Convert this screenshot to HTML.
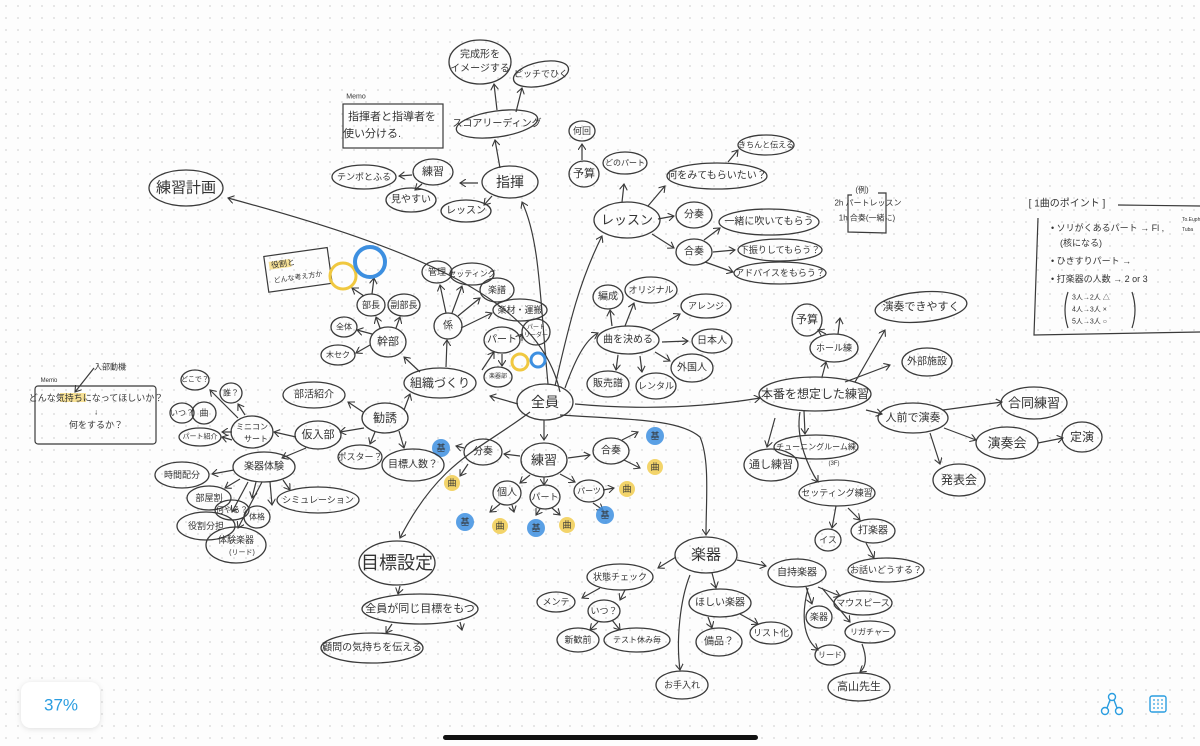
<!DOCTYPE html>
<html><head><meta charset="utf-8"><style>
html,body{margin:0;padding:0;width:1200px;height:746px;overflow:hidden;background:#fdfdfd}
svg{display:block}
text{font-family:"Liberation Sans","Noto Sans CJK JP",sans-serif;fill:#333;text-anchor:middle;dominant-baseline:central}
.e{fill:none;stroke:#3a3a3a;stroke-width:1.3}
.l{fill:none;stroke:#3a3a3a;stroke-width:1.2;marker-end:url(#a)}
.n{fill:none;stroke:#3a3a3a;stroke-width:1.2}
</style></head><body>
<svg width="1200" height="746" viewBox="0 0 1200 746" xmlns="http://www.w3.org/2000/svg">
<defs>
<pattern id="g" width="12" height="12" patternUnits="userSpaceOnUse"><circle cx="6" cy="6" r="0.9" fill="#d6d6d6"/></pattern>
<marker id="a" markerWidth="8" markerHeight="8" refX="6" refY="4" orient="auto" markerUnits="userSpaceOnUse"><path d="M0,0 L6,4 L0,8" fill="none" stroke="#3a3a3a" stroke-width="1.1"/></marker>
<filter id="s" x="-20%" y="-20%" width="140%" height="140%"><feDropShadow dx="0" dy="1" stdDeviation="3" flood-opacity="0.12"/></filter>
</defs>
<rect width="1200" height="746" fill="#fdfdfd"/>
<rect width="1200" height="746" fill="url(#g)"/>

<!-- long connectors -->
<path class="l" d="M560,392 C540,300 420,250 228,198"/>
<path class="l" d="M548,384 C540,300 540,240 522,202"/>
<path class="l" d="M555,386 C570,320 580,280 602,236"/>
<path class="l" d="M565,388 C575,360 585,340 598,333"/>
<path class="l" d="M575,404 C640,410 700,408 760,398"/>
<path class="l" d="M518,404 L490,396"/>
<path class="l" d="M530,412 C480,450 440,460 400,538"/>
<path class="l" d="M560,415 C640,420 680,420 700,437 C710,460 706,500 706,535"/>
<path class="l" d="M544,420 L544,440"/>
<path class="l" d="M690,575 C680,600 676,640 680,670"/>

<!-- 指揮 area -->
<ellipse class="e" cx="480" cy="62" rx="31" ry="22"/><text x="480" y="55" font-size="10">完成形を</text><text x="480" y="69" font-size="10">イメージする</text>
<ellipse class="e" cx="541" cy="74" rx="28" ry="12" transform="rotate(-12 541 74)"/><text x="541" y="74" font-size="9">ピッチでひく</text>
<text x="356" y="97" font-size="7">Memo</text>
<rect class="n" x="343" y="104" width="100" height="44"/><text x="392" y="117" font-size="11">指揮者と指導者を</text><text x="372" y="134" font-size="11">使い分ける.</text>
<ellipse class="e" cx="497" cy="124" rx="41" ry="13" transform="rotate(-8 497 124)"/><text x="497" y="124" font-size="10">スコアリーディング</text>
<path class="l" d="M497,110 L494,84"/><path class="l" d="M516,112 L522,88"/><path class="l" d="M500,168 L495,140"/>
<ellipse class="e" cx="364" cy="177" rx="32" ry="12"/><text x="364" y="177" font-size="9">テンポとふる</text>
<ellipse class="e" cx="433" cy="172" rx="20" ry="13"/><text x="433" y="172" font-size="11">練習</text>
<ellipse class="e" cx="510" cy="182" rx="28" ry="16"/><text x="510" y="182" font-size="14">指揮</text>
<ellipse class="e" cx="411" cy="200" rx="25" ry="12"/><text x="411" y="200" font-size="10">見やすい</text>
<ellipse class="e" cx="466" cy="211" rx="25" ry="11"/><text x="466" y="211" font-size="10">レッスン</text>
<path class="l" d="M478,183 L460,183"/><path class="l" d="M412,175 L399,176"/><path class="l" d="M492,196 L484,205"/><path class="l" d="M422,184 L415,190"/>

<!-- 練習計画 -->
<ellipse class="e" cx="186" cy="188" rx="37" ry="18"/><text x="186" y="188" font-size="15">練習計画</text>

<!-- レッスン -->
<ellipse class="e" cx="582" cy="131" rx="13" ry="10"/><text x="582" y="131" font-size="9">何回</text>
<ellipse class="e" cx="584" cy="174" rx="15" ry="13"/><text x="584" y="174" font-size="11">予算</text>
<path class="l" d="M582,160 L582,144"/>
<ellipse class="e" cx="625" cy="163" rx="22" ry="11"/><text x="625" y="163" font-size="8">どのパート</text>
<ellipse class="e" cx="717" cy="176" rx="50" ry="13"/><text x="717" y="176" font-size="10">何をみてもらいたい？</text>
<ellipse class="e" cx="766" cy="145" rx="28" ry="10"/><text x="766" y="145" font-size="8">きちんと伝える</text>
<path class="l" d="M728,162 L738,150"/>
<ellipse class="e" cx="627" cy="220" rx="33" ry="18"/><text x="627" y="220" font-size="13">レッスン</text>
<path class="l" d="M622,202 L624,184"/><path class="l" d="M648,206 L665,186"/><path class="l" d="M658,219 L674,216"/><path class="l" d="M652,234 L674,248"/>
<ellipse class="e" cx="694" cy="215" rx="18" ry="13"/><text x="694" y="215" font-size="10">分奏</text>
<ellipse class="e" cx="694" cy="252" rx="18" ry="13"/><text x="694" y="252" font-size="10">合奏</text>
<ellipse class="e" cx="769" cy="222" rx="50" ry="13"/><text x="769" y="222" font-size="10">一緒に吹いてもらう</text>
<ellipse class="e" cx="780" cy="250" rx="42" ry="11"/><text x="780" y="250" font-size="9">下振りしてもらう？</text>
<ellipse class="e" cx="780" cy="273" rx="46" ry="11"/><text x="780" y="273" font-size="9">アドバイスをもらう？</text>
<path class="l" d="M704,240 L720,228"/><path class="l" d="M713,252 L735,250"/><path class="l" d="M705,262 L733,272"/>
<text x="862" y="190" font-size="8">(例)</text>
<path class="n" d="M852,195 L848,195 L848,232 L886,233 L886,193 L878,193"/>
<text x="868" y="203" font-size="8">2h  パートレッスン</text>
<text x="867" y="218" font-size="8">1h  合奏(一緒に)</text>

<!-- 1曲のポイント -->
<text x="1067" y="204" font-size="10">[ 1曲のポイント ]</text>
<path class="n" d="M1118,205 L1200,206"/>
<path class="n" d="M1038,218 L1034,335 L1200,332"/>
<text x="1051" y="228" font-size="9" style="text-anchor:start">•  ソリがくあるパート  →  Fl ,</text>
<text x="1182" y="220" font-size="5" style="text-anchor:start">To.Euph</text>
<text x="1182" y="230" font-size="5" style="text-anchor:start">Tuba</text>
<text x="1060" y="243" font-size="9" style="text-anchor:start">(核になる)</text>
<text x="1051" y="261" font-size="9" style="text-anchor:start">•  ひきすりパート   →</text>
<text x="1051" y="279" font-size="9" style="text-anchor:start">•  打楽器の人数   →  2 or 3</text>
<text x="1072" y="298" font-size="7" style="text-anchor:start">3人→2人  △</text>
<text x="1072" y="310" font-size="7" style="text-anchor:start">4人→3人  ×</text>
<text x="1072" y="322" font-size="7" style="text-anchor:start">5人→3人  ○</text>
<path class="n" d="M1068,292 Q1062,310 1068,328"/><path class="n" d="M1132,292 Q1138,310 1132,328"/>

<!-- 曲を決める -->
<ellipse class="e" cx="608" cy="297" rx="15" ry="12"/><text x="608" y="297" font-size="10">編成</text>
<ellipse class="e" cx="651" cy="290" rx="26" ry="13"/><text x="651" y="290" font-size="9">オリジナル</text>
<ellipse class="e" cx="706" cy="306" rx="25" ry="12"/><text x="706" y="306" font-size="9">アレンジ</text>
<ellipse class="e" cx="628" cy="340" rx="31" ry="14"/><text x="628" y="340" font-size="10">曲を決める</text>
<ellipse class="e" cx="712" cy="341" rx="20" ry="12"/><text x="712" y="341" font-size="10">日本人</text>
<ellipse class="e" cx="692" cy="368" rx="21" ry="14"/><text x="692" y="368" font-size="10">外国人</text>
<ellipse class="e" cx="608" cy="384" rx="21" ry="13"/><text x="608" y="384" font-size="10">販売譜</text>
<ellipse class="e" cx="656" cy="386" rx="20" ry="13"/><text x="656" y="386" font-size="9">レンタル</text>
<path class="l" d="M612,326 L610,310"/><path class="l" d="M625,326 L634,303"/><path class="l" d="M652,330 L680,314"/><path class="l" d="M662,342 L688,341"/><path class="l" d="M655,352 L670,361"/><path class="l" d="M618,355 L616,370"/><path class="l" d="M640,356 L642,372"/>

<!-- 本番を想定した練習 -->
<ellipse class="e" cx="807" cy="320" rx="15" ry="16"/><text x="807" y="320" font-size="11">予算</text>
<ellipse class="e" cx="834" cy="348" rx="24" ry="14"/><text x="834" y="348" font-size="9">ホール練</text>
<ellipse class="e" cx="921" cy="307" rx="46" ry="15" transform="rotate(-5 921 307)"/><text x="921" y="307" font-size="11">演奏できやすく</text>
<ellipse class="e" cx="927" cy="362" rx="25" ry="14"/><text x="927" y="362" font-size="10">外部施設</text>
<ellipse class="e" cx="815" cy="394" rx="56" ry="17"/><text x="815" y="394" font-size="12">本番を想定した練習</text>
<ellipse class="e" cx="913" cy="418" rx="35" ry="15"/><text x="913" y="418" font-size="11">人前で演奏</text>
<ellipse class="e" cx="1034" cy="403" rx="33" ry="16"/><text x="1034" y="403" font-size="13">合同練習</text>
<ellipse class="e" cx="1007" cy="443" rx="31" ry="16"/><text x="1007" y="443" font-size="13">演奏会</text>
<ellipse class="e" cx="1082" cy="437" rx="20" ry="15"/><text x="1082" y="437" font-size="12">定演</text>
<ellipse class="e" cx="959" cy="480" rx="26" ry="16"/><text x="959" y="480" font-size="12">発表会</text>
<ellipse class="e" cx="771" cy="465" rx="27" ry="16"/><text x="771" y="465" font-size="11">通し練習</text>
<ellipse class="e" cx="816" cy="447" rx="42" ry="12"/><text x="816" y="447" font-size="8">チューニングルーム練</text><text x="834" y="464" font-size="6">(3F)</text>
<ellipse class="e" cx="837" cy="493" rx="38" ry="13"/><text x="837" y="493" font-size="9">セッティング練習</text>
<ellipse class="e" cx="828" cy="540" rx="13" ry="11"/><text x="828" y="540" font-size="9">イス</text>
<ellipse class="e" cx="873" cy="531" rx="22" ry="12"/><text x="873" y="531" font-size="10">打楽器</text>
<ellipse class="e" cx="886" cy="570" rx="38" ry="12"/><text x="886" y="570" font-size="9">お話いどうする？</text>
<path class="l" d="M822,377 L826,362"/><path class="l" d="M826,334 L818,330"/><path class="l" d="M838,334 L840,318"/><path class="l" d="M855,382 L885,330"/><path class="l" d="M845,382 L890,365"/><path class="l" d="M866,410 L882,414"/><path class="l" d="M943,410 L1002,402"/><path class="l" d="M944,428 L976,440"/><path class="l" d="M1038,443 L1063,438"/><path class="l" d="M930,433 L940,464"/><path class="l" d="M775,418 L767,447"/><path class="l" d="M804,411 L805,434"/><path class="l" d="M800,412 C795,440 810,470 818,482"/><path class="l" d="M836,506 L832,528"/><path class="l" d="M848,508 L860,520"/><path class="l" d="M866,543 L874,558"/>

<!-- 全員 center -->
<ellipse class="e" cx="545" cy="402" rx="28" ry="18"/><text x="545" y="402" font-size="14">全員</text>
<ellipse class="e" cx="440" cy="383" rx="36" ry="15"/><text x="440" y="383" font-size="12">組織づくり</text>
<ellipse class="e" cx="544" cy="460" rx="23" ry="17"/><text x="544" y="460" font-size="13">練習</text>
<ellipse class="e" cx="483" cy="452" rx="19" ry="13"/><text x="483" y="452" font-size="10">分奏</text>
<ellipse class="e" cx="611" cy="451" rx="18" ry="13"/><text x="611" y="451" font-size="10">合奏</text>
<ellipse class="e" cx="507" cy="493" rx="14" ry="12"/><text x="507" y="493" font-size="10">個人</text>
<ellipse class="e" cx="545" cy="497" rx="15" ry="12"/><text x="545" y="497" font-size="9">パート</text>
<ellipse class="e" cx="589" cy="491" rx="15" ry="11"/><text x="589" y="491" font-size="8">パーツ</text>
<path class="l" d="M520,456 L504,454"/><path class="l" d="M568,458 L590,455"/><path class="l" d="M622,440 L638,432"/><path class="l" d="M624,460 L640,468"/><path class="l" d="M530,475 L520,483"/><path class="l" d="M544,477 L544,485"/><path class="l" d="M560,474 L575,482"/><path class="l" d="M603,490 L614,488"/><path class="l" d="M593,503 L603,510"/><path class="l" d="M500,504 L490,512"/><path class="l" d="M512,505 L514,512"/><path class="l" d="M540,509 L536,515"/><path class="l" d="M552,508 L560,515"/><path class="l" d="M468,464 L460,476"/><path class="l" d="M464,448 L456,446"/>
<!-- badges -->
<g font-size="9">
<circle cx="441" cy="448" r="9" fill="#3d8fe0" opacity="0.85"/><text x="441" y="448">基</text>
<circle cx="452" cy="483" r="8" fill="#f3d46a"/><text x="452" y="483">曲</text>
<circle cx="655" cy="436" r="9" fill="#3d8fe0" opacity="0.85"/><text x="655" y="436">基</text>
<circle cx="655" cy="467" r="8" fill="#f3d46a"/><text x="655" y="467">曲</text>
<circle cx="627" cy="489" r="8" fill="#f3d46a"/><text x="627" y="489">曲</text>
<circle cx="605" cy="515" r="9" fill="#3d8fe0" opacity="0.85"/><text x="605" y="515">基</text>
<circle cx="465" cy="522" r="9" fill="#3d8fe0" opacity="0.85"/><text x="465" y="522">基</text>
<circle cx="500" cy="526" r="8" fill="#f3d46a"/><text x="500" y="526">曲</text>
<circle cx="536" cy="528" r="9" fill="#3d8fe0" opacity="0.85"/><text x="536" y="528">基</text>
<circle cx="567" cy="525" r="8" fill="#f3d46a"/><text x="567" y="525">曲</text>
</g>

<!-- 組織づくり branches -->
<ellipse class="e" cx="388" cy="342" rx="18" ry="15"/><text x="388" y="342" font-size="11">幹部</text>
<ellipse class="e" cx="344" cy="327" rx="13" ry="10"/><text x="344" y="327" font-size="8">全体</text>
<ellipse class="e" cx="338" cy="355" rx="17" ry="10"/><text x="338" y="355" font-size="8">木セク</text>
<ellipse class="e" cx="371" cy="305" rx="14" ry="11"/><text x="371" y="305" font-size="9">部長</text>
<ellipse class="e" cx="404" cy="305" rx="16" ry="11"/><text x="404" y="305" font-size="9">副部長</text>
<ellipse class="e" cx="448" cy="326" rx="14" ry="13"/><text x="448" y="326" font-size="10">係</text>
<ellipse class="e" cx="437" cy="272" rx="15" ry="11"/><text x="437" y="272" font-size="9">管理</text>
<ellipse class="e" cx="472" cy="274" rx="22" ry="11"/><text x="472" y="274" font-size="8">セッティング</text>
<ellipse class="e" cx="497" cy="290" rx="17" ry="12"/><text x="497" y="290" font-size="9">楽譜</text>
<ellipse class="e" cx="520" cy="310" rx="27" ry="11"/><text x="520" y="310" font-size="9">楽材・運搬</text>
<ellipse class="e" cx="502" cy="340" rx="18" ry="13"/><text x="502" y="340" font-size="10">パート</text>
<ellipse class="e" cx="536" cy="332" rx="14" ry="13"/><text x="536" y="328" font-size="6">パート</text><text x="536" y="336" font-size="6">リーダー</text>
<ellipse class="e" cx="498" cy="377" rx="14" ry="10"/><text x="498" y="377" font-size="6">楽器部</text>
<circle cx="520" cy="362" r="8" fill="none" stroke="#f0c840" stroke-width="3"/><circle cx="538" cy="360" r="7" fill="none" stroke="#3d8fe0" stroke-width="3"/>
<path class="l" d="M420,372 L404,357"/><path class="l" d="M370,345 L356,353"/><path class="l" d="M372,334 L357,330"/><path class="l" d="M380,328 L376,317"/><path class="l" d="M396,328 L400,317"/><path class="l" d="M446,367 L447,340"/><path class="l" d="M446,313 L440,285"/><path class="l" d="M452,313 L462,286"/><path class="l" d="M458,316 L480,298"/><path class="l" d="M461,328 L492,313"/><path class="l" d="M482,370 L494,352"/><path class="l" d="M520,337 L522,334"/><path class="l" d="M502,354 L502,366"/><path class="l" d="M364,296 L352,288"/><path class="l" d="M372,294 L374,278"/>
<g transform="rotate(-8 297 270)"><rect class="n" x="266" y="252" width="64" height="36"/><rect x="270" y="258" width="22" height="8" fill="#f3d46a" opacity="0.7"/><text x="284" y="262" font-size="8">役割と</text><text x="297" y="278" font-size="7">どんな考え方か</text></g>
<circle cx="343" cy="276" r="13" fill="none" stroke="#f0c840" stroke-width="3"/>
<circle cx="370" cy="262" r="15" fill="none" stroke="#3d8fe0" stroke-width="4"/>

<!-- 勧誘 -->
<ellipse class="e" cx="385" cy="418" rx="23" ry="15"/><text x="385" y="418" font-size="12">勧誘</text>
<ellipse class="e" cx="314" cy="395" rx="31" ry="13"/><text x="314" y="395" font-size="10">部活紹介</text>
<ellipse class="e" cx="318" cy="435" rx="23" ry="14"/><text x="318" y="435" font-size="11">仮入部</text>
<ellipse class="e" cx="360" cy="457" rx="22" ry="12"/><text x="360" y="457" font-size="9">ポスター？</text>
<ellipse class="e" cx="413" cy="465" rx="31" ry="16"/><text x="413" y="465" font-size="10">目標人数？</text>
<path class="l" d="M404,410 L410,394"/><path class="l" d="M363,412 L348,402"/><path class="l" d="M364,428 L340,432"/><path class="l" d="M375,432 L370,444"/><path class="l" d="M399,431 L404,448"/>
<ellipse class="e" cx="252" cy="432" rx="21" ry="16"/><text x="252" y="427" font-size="8">ミニコン</text><text x="256" y="439" font-size="8">サート</text>
<ellipse class="e" cx="264" cy="467" rx="31" ry="15"/><text x="264" y="467" font-size="10">楽器体験</text>
<path class="l" d="M296,437 L274,432"/><path class="l" d="M306,448 L282,458"/>
<ellipse class="e" cx="195" cy="380" rx="14" ry="10"/><text x="195" y="380" font-size="7">どこで？</text>
<ellipse class="e" cx="231" cy="393" rx="11" ry="10"/><text x="231" y="393" font-size="8">誰？</text>
<ellipse class="e" cx="182" cy="413" rx="12" ry="10"/><text x="182" y="413" font-size="8">いつ？</text>
<ellipse class="e" cx="204" cy="413" rx="12" ry="11"/><text x="204" y="413" font-size="9">曲</text>
<ellipse class="e" cx="200" cy="437" rx="21" ry="9"/><text x="200" y="437" font-size="7">パート紹介</text>
<path class="l" d="M238,418 L210,390"/><path class="l" d="M245,415 L238,404"/><path class="l" d="M232,432 L222,432"/><path class="l" d="M232,440 L222,437"/>
<ellipse class="e" cx="182" cy="475" rx="27" ry="13"/><text x="182" y="475" font-size="9">時間配分</text>
<ellipse class="e" cx="209" cy="498" rx="22" ry="12"/><text x="209" y="498" font-size="9">部屋割</text>
<ellipse class="e" cx="206" cy="526" rx="29" ry="14"/><text x="206" y="526" font-size="9">役割分担</text>
<ellipse class="e" cx="232" cy="510" rx="17" ry="10"/><text x="232" y="510" font-size="8">何やる？</text>
<ellipse class="e" cx="257" cy="517" rx="13" ry="11"/><text x="257" y="517" font-size="8">体格</text>
<ellipse class="e" cx="236" cy="545" rx="30" ry="18"/><text x="236" y="540" font-size="9">体験楽器</text><text x="242" y="553" font-size="7">(リード)</text>
<ellipse class="e" cx="318" cy="500" rx="41" ry="13"/><text x="318" y="500" font-size="9">シミュレーション</text>
<path class="l" d="M234,470 L212,474"/><path class="l" d="M240,479 L225,488"/><path class="l" d="M248,482 L232,512"/><path class="l" d="M256,482 L252,498"/><path class="l" d="M262,482 L238,528"/><path class="l" d="M270,482 L272,505"/><path class="l" d="M283,480 L290,490"/>
<text x="110" y="367" font-size="8">入部動機</text><path class="l" d="M94,368 L75,392"/>
<text x="49" y="381" font-size="6">Memo</text>
<rect class="n" x="35" y="386" width="121" height="58" rx="3"/>
<rect x="60" y="393" width="26" height="9" fill="#f3d46a" opacity="0.7"/>
<text x="96" y="398" font-size="9">どんな気持ちになってほしいか？</text>
<text x="96" y="412" font-size="8">↓</text>
<text x="96" y="425" font-size="9">何をするか？</text>

<!-- 目標設定 -->
<ellipse class="e" cx="397" cy="563" rx="38" ry="22"/><text x="397" y="563" font-size="18">目標設定</text>
<ellipse class="e" cx="420" cy="609" rx="58" ry="15"/><text x="420" y="609" font-size="11">全員が同じ目標をもつ</text>
<ellipse class="e" cx="372" cy="648" rx="51" ry="15"/><text x="372" y="648" font-size="10">顧問の気持ちを伝える</text>
<path class="l" d="M400,586 L398,594"/><path class="l" d="M392,624 L386,633"/><path class="l" d="M460,622 L462,630"/>

<!-- 楽器 -->
<ellipse class="e" cx="706" cy="555" rx="31" ry="18"/><text x="706" y="555" font-size="15">楽器</text>
<ellipse class="e" cx="620" cy="577" rx="33" ry="13"/><text x="620" y="577" font-size="9">状態チェック</text>
<ellipse class="e" cx="556" cy="602" rx="19" ry="10"/><text x="556" y="602" font-size="9">メンテ</text>
<ellipse class="e" cx="604" cy="611" rx="16" ry="11"/><text x="604" y="611" font-size="9">いつ？</text>
<ellipse class="e" cx="578" cy="640" rx="21" ry="12"/><text x="578" y="640" font-size="9">新歓前</text>
<ellipse class="e" cx="637" cy="640" rx="33" ry="12"/><text x="637" y="640" font-size="8">テスト休み毎</text>
<ellipse class="e" cx="720" cy="603" rx="31" ry="14"/><text x="720" y="603" font-size="10">ほしい楽器</text>
<ellipse class="e" cx="719" cy="642" rx="23" ry="14"/><text x="719" y="642" font-size="10">備品？</text>
<ellipse class="e" cx="771" cy="633" rx="21" ry="11"/><text x="771" y="633" font-size="9">リスト化</text>
<ellipse class="e" cx="682" cy="685" rx="26" ry="14"/><text x="682" y="685" font-size="9">お手入れ</text>
<ellipse class="e" cx="797" cy="573" rx="29" ry="14"/><text x="797" y="573" font-size="10">自持楽器</text>
<ellipse class="e" cx="819" cy="617" rx="13" ry="11"/><text x="819" y="617" font-size="9">楽器</text>
<ellipse class="e" cx="863" cy="603" rx="29" ry="12"/><text x="863" y="603" font-size="9">マウスピース</text>
<ellipse class="e" cx="870" cy="632" rx="25" ry="11"/><text x="870" y="632" font-size="8">リガチャー</text>
<ellipse class="e" cx="830" cy="655" rx="15" ry="10"/><text x="830" y="655" font-size="8">リード</text>
<ellipse class="e" cx="859" cy="687" rx="31" ry="14"/><text x="859" y="687" font-size="11">高山先生</text>
<path class="l" d="M676,557 L658,568"/><path class="l" d="M600,588 L582,598"/><path class="l" d="M625,590 L620,600"/><path class="l" d="M598,622 L590,630"/><path class="l" d="M612,620 L620,630"/><path class="l" d="M712,573 L716,588"/><path class="l" d="M708,617 L712,628"/><path class="l" d="M740,614 L758,624"/><path class="l" d="M737,560 L766,566"/><path class="l" d="M806,587 L812,604"/><path class="l" d="M818,587 L840,596"/><path class="l" d="M822,588 L850,622"/><path class="l" d="M808,588 C800,620 805,640 818,650"/><path class="l" d="M862,644 C868,660 865,668 860,672"/>

<!-- UI -->
<rect x="21" y="682" width="79" height="46" rx="10" fill="#fff" filter="url(#s)"/>
<text x="61" y="705" font-size="17" style="fill:#2a9de0">37%</text>
<g stroke="#2a9de0" stroke-width="1.4" fill="none">
<circle cx="1112" cy="697" r="3.5"/><circle cx="1105" cy="711" r="3.5"/><circle cx="1119" cy="711" r="3.5"/><path d="M1110,700 L1107,708 M1114,700 L1117,708"/>
<rect x="1150" y="696" width="16" height="16" rx="2"/>
</g>
<g fill="#2a9de0"><circle cx="1154" cy="700" r="0.9"/><circle cx="1158" cy="700" r="0.9"/><circle cx="1162" cy="700" r="0.9"/><circle cx="1154" cy="704" r="0.9"/><circle cx="1158" cy="704" r="0.9"/><circle cx="1162" cy="704" r="0.9"/><circle cx="1154" cy="708" r="0.9"/><circle cx="1158" cy="708" r="0.9"/><circle cx="1162" cy="708" r="0.9"/></g>
<rect x="443" y="735" width="315" height="5" rx="2.5" fill="#111"/>
</svg>
</body></html>
